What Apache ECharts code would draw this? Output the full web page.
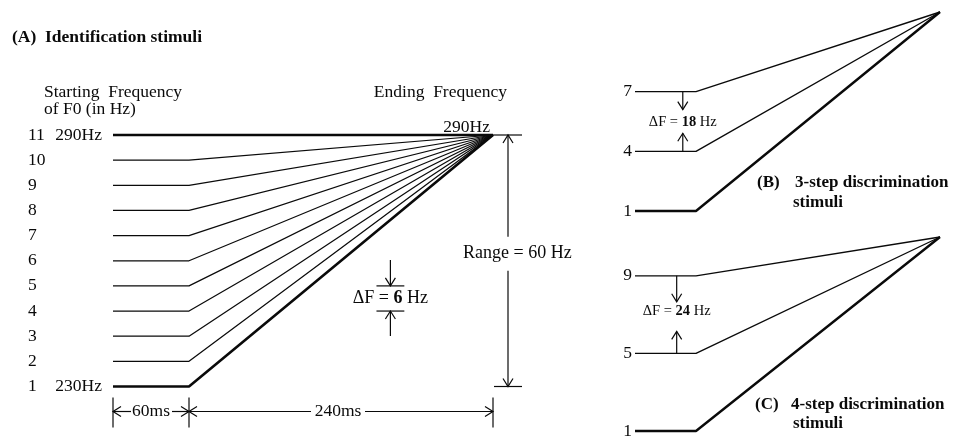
<!DOCTYPE html>
<html><head><meta charset="utf-8">
<script src="https://cdn.jsdelivr.net/npm/echarts@6/dist/echarts.min.js"></script>
<style>html,body{margin:0;padding:0;background:#fff}#c{width:956px;height:444px}</style>
</head><body><div id="c"></div>
<script>
// ---- data ----
const stepNumbers = [1, 2, 3, 4, 5, 6, 7, 8, 9, 10, 11];
const startFreqHz = [230, 236, 242, 248, 254, 260, 266, 272, 278, 284, 290];
const endFreqHz = 290;
const timePointsMs = [0, 60, 300];      // onset, end of level portion, end of glide
const panelBSteps = [1, 4, 7];
const panelCSteps = [1, 5, 9];
const stepSizeHz = 6;
const rangeHz = 60;
const deltaBHz = 18;
const deltaCHz = 24;

const FONT = 'Liberation Serif';
const FS = 17.5;
const INK = '#0a0a0a';
const chart = echarts.init(document.getElementById('c'), null, {renderer: 'canvas'});

function freqOf(step) { return startFreqHz[stepNumbers.indexOf(step)]; }
function stepOf(hz) { return stepNumbers[startFreqHz.indexOf(Math.round(hz))]; }

function stimSeries(steps, gi, thickW, thinW) {
  return steps.map(s => {
    const f = freqOf(s);
    const thick = (s === 1) || (gi === 0 && s === 11);
    return {
      type: 'line', xAxisIndex: gi, yAxisIndex: gi, symbol: 'none', clip: false,
      silent: true, animation: false,
      data: [[timePointsMs[0], f], [timePointsMs[1], f], [timePointsMs[2], endFreqHz]],
      lineStyle: {color: INK, width: thick ? thickW : thinW}
    };
  });
}

const hidden = {axisLine: {show: false}, axisTick: {show: false}, splitLine: {show: false}};
function xAx(gi) { return Object.assign({type: 'value', gridIndex: gi, min: timePointsMs[0], max: timePointsMs[2], axisLabel: {show: false}}, hidden); }

const option = {
  backgroundColor: '#fff',
  animation: false,
  grid: [
    {left: 113, top: 135, width: 380, height: 251.5},
    {left: 635, top: 12, width: 305, height: 199},
    {left: 635, top: 237, width: 305, height: 194}
  ],
  xAxis: [xAx(0), xAx(1), xAx(2)],
  yAxis: [
    Object.assign({type: 'value', gridIndex: 0, min: startFreqHz[0], max: endFreqHz, interval: stepSizeHz,
      axisLabel: {margin: 11, fontFamily: FONT, fontSize: FS, color: INK,
        formatter: v => {
          const s = stepOf(v);
          const hz = (s === 1 || s === 11) ? Math.round(v) + 'Hz' : ' ';
          return '{n|' + s + '}{hz|' + hz + '}';
        },
        rich: {n: {width: 26, align: 'left', fontFamily: FONT, fontSize: FS, color: INK},
               hz: {width: 48, align: 'right', fontFamily: FONT, fontSize: FS, color: INK}}
      }}, hidden),
    Object.assign({type: 'value', gridIndex: 1, min: startFreqHz[0], max: endFreqHz, interval: stepSizeHz,
      axisLabel: {margin: 3, fontFamily: FONT, fontSize: FS, color: INK,
        formatter: v => panelBSteps.indexOf(stepOf(v)) >= 0 ? String(stepOf(v)) : ''}}, hidden),
    Object.assign({type: 'value', gridIndex: 2, min: startFreqHz[0], max: endFreqHz, interval: stepSizeHz,
      axisLabel: {margin: 3, fontFamily: FONT, fontSize: FS, color: INK,
        formatter: v => panelCSteps.indexOf(stepOf(v)) >= 0 ? String(stepOf(v)) : ''}}, hidden)
  ],
  series: [].concat(
    stimSeries(stepNumbers, 0, 2.6, 1.25),
    stimSeries(panelBSteps, 1, 2.4, 1.35),
    stimSeries(panelCSteps, 2, 2.4, 1.35)
  )
};
chart.setOption(option);

// ---- annotations positioned through the axes ----
const px = (gi, p) => chart.convertToPixel({gridIndex: gi}, p);
const G = [];
const stroke = {stroke: INK, lineWidth: 1.2, fill: null};
function line(x1, y1, x2, y2, w) { G.push({type: 'line', silent: true, shape: {x1, y1, x2, y2}, style: {stroke: INK, lineWidth: w || 1.2}}); }
function head(x, y, dir) {
  const L = 8, H = 5; let pts;
  if (dir === 'down') pts = [[x - H, y - L], [x, y], [x + H, y - L]];
  if (dir === 'up') pts = [[x - H, y + L], [x, y], [x + H, y + L]];
  if (dir === 'left') pts = [[x + L, y - H], [x, y], [x + L, y + H]];
  if (dir === 'right') pts = [[x - L, y - H], [x, y], [x - L, y + H]];
  G.push({type: 'polyline', silent: true, shape: {points: pts}, style: Object.assign({}, stroke)});
}
function text(str, x, y, opt) {
  opt = opt || {};
  G.push({type: 'text', silent: true, x, y, style: Object.assign({
    text: str, fill: INK, fontFamily: FONT, fontSize: opt.size || FS, fontWeight: opt.bold ? 'bold' : 'normal',
    textAlign: opt.align || 'left', textVerticalAlign: 'middle'}, opt.extra || {})});
}

// Panel A
const a0 = px(0, [timePointsMs[0], startFreqHz[0]]);
const a1 = px(0, [timePointsMs[1], startFreqHz[0]]);
const a2 = px(0, [timePointsMs[2], startFreqHz[0]]);
const aTop = px(0, [timePointsMs[2], endFreqHz]);

// time dimension line
const ty = a0[1] + 25;
[a0[0], a1[0], a2[0]].forEach(x => line(x, a0[1] + 11, x, a0[1] + 41));
const m60 = (a0[0] + a1[0]) / 2, m240 = (a1[0] + a2[0]) / 2 - 3;
line(a0[0], ty, m60 - 20, ty); line(m60 + 21, ty, a1[0], ty);
line(a1[0], ty, m240 - 27, ty); line(m240 + 27, ty, a2[0], ty);
head(a0[0], ty, 'left'); head(a1[0], ty, 'right'); head(a1[0], ty, 'left'); head(a2[0], ty, 'right');
text((timePointsMs[1] - timePointsMs[0]) + 'ms', m60, ty, {align: 'center'});
text((timePointsMs[2] - timePointsMs[1]) + 'ms', m240, ty, {align: 'center'});

// range dimension
const rx = aTop[0] + 15;
line(aTop[0], aTop[1], aTop[0] + 29, aTop[1]);
line(a2[0] + 1, a2[1], a2[0] + 29, a2[1]);
const rMid = (aTop[1] + a2[1]) / 2 - 7;
line(rx, aTop[1], rx, rMid - 17); line(rx, rMid + 17, rx, a2[1]);
head(rx, aTop[1], 'up'); head(rx, a2[1], 'down');
text('Range = ' + rangeHz + ' Hz', rx - 45, rMid, {size: 18});

// labels
text('(A)  Identification stimuli', 12, 37, {bold: true});
text('Starting  Frequency', 44, 92);
text('of F0 (in Hz)', 44, 109);
text('Ending  Frequency', aTop[0] + 14, 92, {align: 'right'});
text(endFreqHz + 'Hz', aTop[0] - 3, aTop[1] - 8, {align: 'right'});

// delta F = 6 Hz
const d1 = px(0, [208, freqOf(5)]), d2 = px(0, [230, freqOf(5)]);
const e1 = px(0, [208, freqOf(4)]), e2 = px(0, [230, freqOf(4)]);
const dcx = (d1[0] + d2[0]) / 2;
line(d1[0], d1[1], d2[0], d2[1]); line(e1[0], e1[1], e2[0], e2[1]);
line(dcx, d1[1] - 26, dcx, d1[1]); head(dcx, d1[1], 'down');
line(dcx, e1[1] + 25, dcx, e1[1]); head(dcx, e1[1], 'up');
G.push({type: 'text', silent: true, x: dcx, y: (d1[1] + e1[1]) / 2, style: {
  text: '{r|ΔF = }{b|' + stepSizeHz + '}{r| Hz}', textAlign: 'center', textVerticalAlign: 'middle',
  rich: {r: {fontFamily: FONT, fontSize: 18, fill: INK, color: INK}, b: {fontFamily: FONT, fontSize: 18, fontWeight: 'bold', fill: INK, color: INK}}}});

// Panel B / C delta annotations
function deltaAnn(gi, hiStep, loStep, ms, downLen, upLen, textY, dHz) {
  const h = px(gi, [ms, freqOf(hiStep)]), l = px(gi, [ms, freqOf(loStep)]);
  line(h[0], h[1], h[0], h[1] + downLen); head(h[0], h[1] + downLen, 'down');
  line(l[0], l[1], l[0], l[1] - upLen); head(l[0], l[1] - upLen, 'up');
  G.push({type: 'text', silent: true, x: h[0], y: textY(h[1], l[1]), style: {
    text: '{r|ΔF = }{b|' + dHz + '}{r| Hz}', textAlign: 'center', textVerticalAlign: 'middle',
    rich: {r: {fontFamily: FONT, fontSize: 14.5, fill: INK, color: INK}, b: {fontFamily: FONT, fontSize: 14.5, fontWeight: 'bold', fill: INK, color: INK}}}});
}
deltaAnn(1, 7, 4, 47, 18, 18, (h, l) => (h + l) / 2 + 1, deltaBHz);
deltaAnn(2, 9, 5, 41, 26, 22, (h, l) => h + 35, deltaCHz);

text('(B)', 757, 183, {bold: true, size: 17});
text('3-step discrimination', 795, 183, {bold: true, size: 17});
text('stimuli', 793, 203, {bold: true, size: 17});
text('(C)', 755, 405, {bold: true, size: 17});
text('4-step discrimination', 791, 405, {bold: true, size: 17});
text('stimuli', 793, 424, {bold: true, size: 17});

chart.setOption({graphic: G});
</script></body></html>
